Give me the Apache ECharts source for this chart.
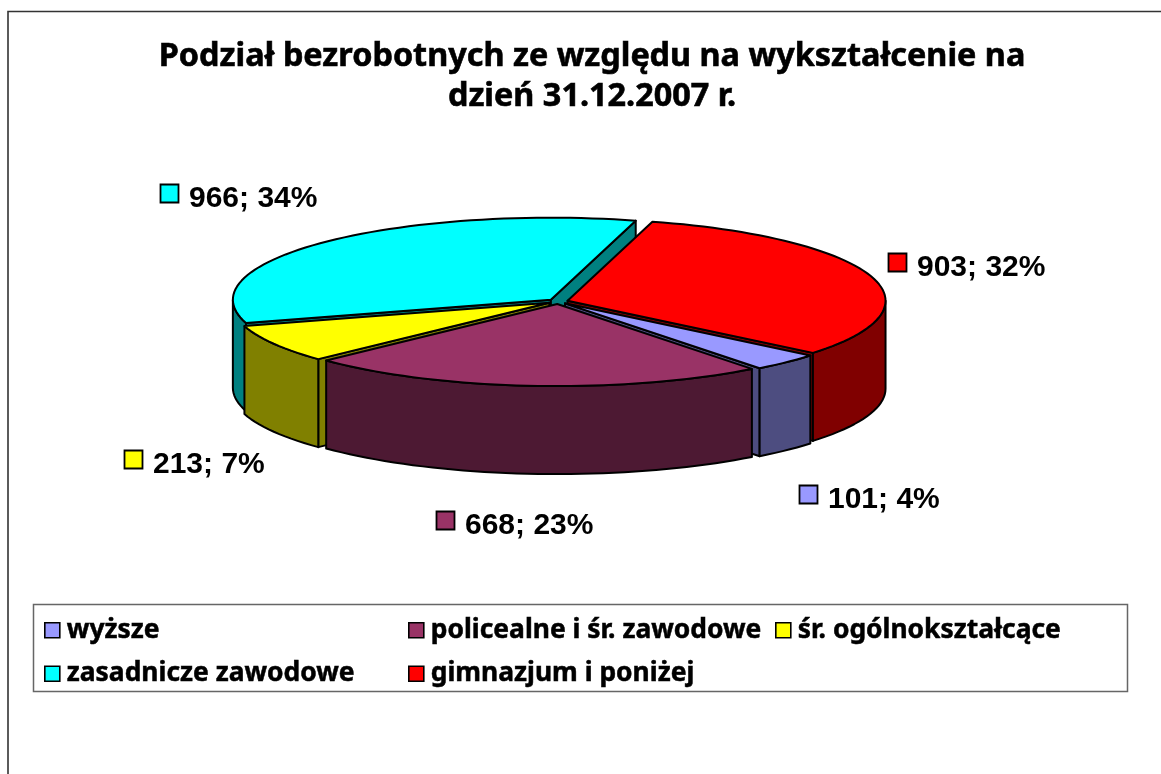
<!DOCTYPE html>
<html><head><meta charset="utf-8">
<style>html,body{margin:0;padding:0;background:#fff;overflow:hidden}#c{width:1161px;height:774px}</style>
<script src="https://cdn.jsdelivr.net/npm/echarts@6/dist/echarts.min.js"></script>
</head><body><div id="c"></div>
<script>
const categories = ['wyższe', 'policealne i śr. zawodowe', 'śr. ogólnokształcące', 'zasadnicze zawodowe', 'gimnazjum i poniżej'];
const values = [101, 668, 213, 966, 903];
const topColors = ['#9999ff', '#993366', '#ffff00', '#00ffff', '#ff0000'];
const sideColors = ['#4d4d80', '#4d1933', '#808000', '#008080', '#800000'];
const titleText = 'Podział bezrobotnych ze względu na wykształcenie na\ndzień 31.12.2007 r.';

// layout of the tilted pie
const PIE = { cx: 558, cy: 301.5, rx: 318, ry: 82, depth: 88, explode: 10, firstAngle: 129.5 };
// label marker offset from the rim point on each slice's bisector
const labelOffsets = [[13, 123], [-97, 125], [-150, 106], [-164, -58], [17, -23]];

const LABEL_FONT = 'bold 30px "Liberation Sans", Arial, sans-serif';
const LEGEND_FONT_FAMILY = '"Noto Sans", sans-serif';
const total = values.reduce((a, b) => a + b, 0);
const rad = d => d * Math.PI / 180;

const slices = [];
values.reduce((start, v, i) => {
  const end = start + v / total * 360;
  slices.push({ start, end, mid: (start + end) / 2 });
  return end;
}, PIE.firstAngle);

function rim(ax, ay, deg, dy) {
  return [ax + PIE.rx * Math.sin(rad(deg)), ay - PIE.ry * Math.cos(rad(deg)) + (dy || 0)];
}
function arcPoints(ax, ay, a, b, dy) {
  const n = Math.max(2, Math.ceil(Math.abs(b - a) / 2));
  const pts = [];
  for (let k = 0; k <= n; k++) pts.push(rim(ax, ay, a + (b - a) * k / n, dy));
  return pts;
}

function makeRender(i) {
  return function (params, api) {
    const value = api.value(0);
    const s = slices[i];
    const ax = PIE.cx + PIE.explode * Math.sin(rad(s.mid));
    const ay = PIE.cy - PIE.explode * (PIE.ry / PIE.rx) * Math.cos(rad(s.mid));
    const stroke = { stroke: '#000', lineWidth: 2, lineJoin: 'round' };
    const poly = (points, fill) => ({ type: 'polygon', silent: true, shape: { points }, style: Object.assign({ fill }, stroke) });
    const children = [];
    const side = sideColors[i];
    const d = PIE.depth;
    // cut walls: only the ones that face the viewer
    [[s.start, Math.sin(rad(s.start)) < 0], [s.end, Math.sin(rad(s.end)) > 0]].forEach(([a, visible]) => {
      if (!visible) return;
      const r = rim(ax, ay, a);
      children.push(poly([[ax, ay], r, [r[0], r[1] + d], [ax, ay + d]], side));
    });
    // outer wall: visible only on the front half of the ellipse
    for (const [lo, hi] of [[90, 270], [450, 630]]) {
      const a = Math.max(s.start, lo), b = Math.min(s.end, hi);
      if (b > a) {
        children.push(poly(arcPoints(ax, ay, a, b, 0).concat(arcPoints(ax, ay, b, a, d)), side));
      }
    }
    children.push(poly([[ax, ay]].concat(arcPoints(ax, ay, s.start, s.end, 0)), topColors[i]));

    const base = [PIE.cx + (PIE.rx + PIE.explode) * Math.sin(rad(s.mid)),
                  PIE.cy - (PIE.ry + PIE.explode * PIE.ry / PIE.rx) * Math.cos(rad(s.mid))];
    const mx = Math.round(base[0] + labelOffsets[i][0]);
    const my = Math.round(base[1] + labelOffsets[i][1]);
    children.push({ type: 'rect', silent: true, shape: { x: mx + .5, y: my + .5, width: 18, height: 18 },
      style: { fill: topColors[i], stroke: '#000', lineWidth: 1.8 } });
    children.push({ type: 'text', silent: true, style: {
      x: mx + 29, y: my + 15, text: value + '; ' + Math.round(value / total * 100) + '%',
      font: LABEL_FONT, fill: '#000', verticalAlign: 'middle', align: 'left' } });
    return { type: 'group', children };
  };
}

const order = slices.map((s, i) => [Math.cos(rad(s.mid)), i]).sort((a, b) => b[0] - a[0]).map(p => p[1]);
const series = categories.map((name, i) => ({
  type: 'custom', name, coordinateSystem: 'none', silent: true,
  z: 3 + order.indexOf(i),
  itemStyle: { color: topColors[i] },
  data: [[values[i]]],
  renderItem: makeRender(i)
}));

const legendBase = {
  orient: 'vertical', top: 617, itemWidth: 15, itemHeight: 15, itemGap: 17, icon: 'rect',
  selectedMode: false, padding: 0,
  itemStyle: { borderColor: '#000', borderWidth: 1.6 },
  textStyle: { fontFamily: LEGEND_FONT_FAMILY, fontWeight: 'bold', fontSize: 26.4, color: '#000',
    textBorderColor: '#000', textBorderWidth: 0.5, padding: [0, 0, 0, 2] }
};
const legendCols = [[0, 3, 44], [1, 4, 408], [2, null, 775]];
const legend = legendCols.map(([a, b, left]) => Object.assign({}, legendBase, {
  left, data: [a, b].filter(x => x !== null).map(x => categories[x])
}));

const chart = echarts.init(document.getElementById('c'), null, { renderer: 'canvas' });
chart.setOption({
  animation: false,
  backgroundColor: '#fff',
  title: {
    text: titleText, left: 592, top: 37, textAlign: 'center', padding: 0,
    textStyle: { fontFamily: LEGEND_FONT_FAMILY, fontWeight: 'bold', fontSize: 32.4, lineHeight: 40, color: '#000',
      textBorderColor: '#000', textBorderWidth: 0.6 }
  },
  legend,
  graphic: [
    { type: 'rect', z: 0, silent: true, shape: { x: 8, y: 11.5, width: 1300, height: 900 }, style: { fill: '#fff', stroke: '#333', lineWidth: 1.6 } },
    { type: 'rect', z: 1, silent: true, shape: { x: 33.5, y: 604.5, width: 1094, height: 87 }, style: { fill: '#fff', stroke: '#666', lineWidth: 1.5 } }
  ],
  series
});
</script></body></html>
